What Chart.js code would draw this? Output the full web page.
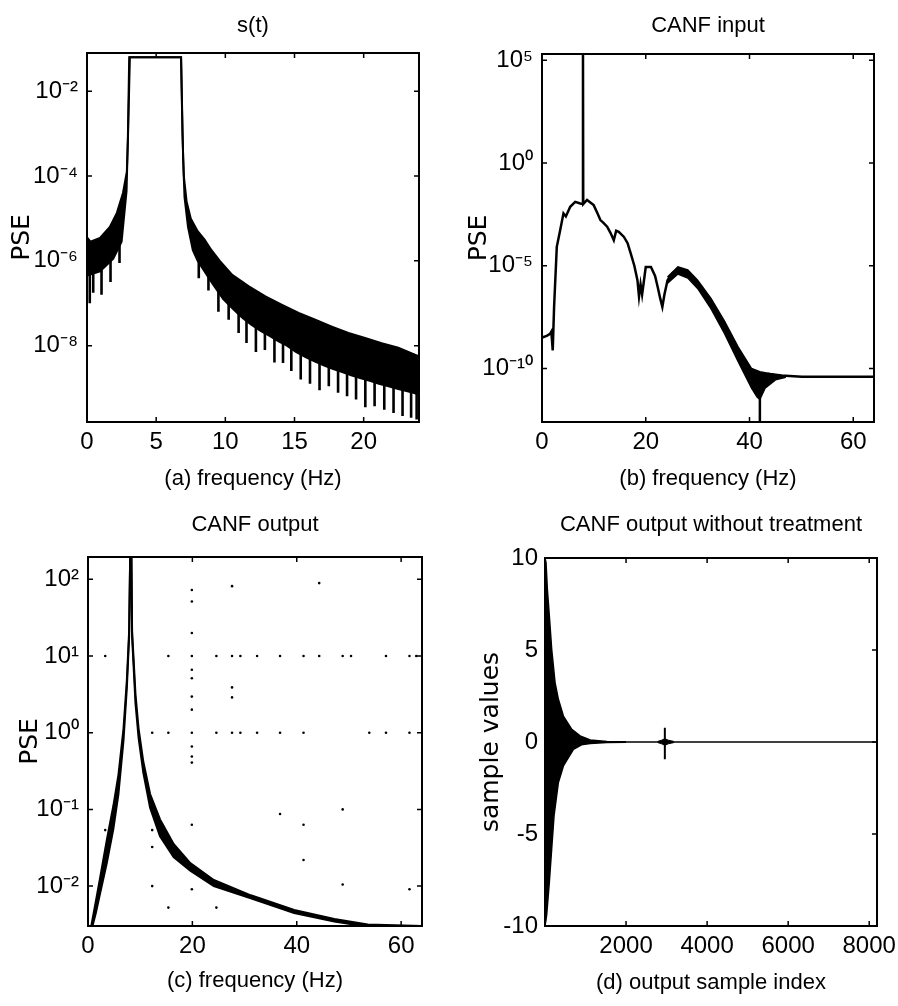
<!DOCTYPE html>
<html lang="en">
<head>
    <meta charset="UTF-8">
    <title>CANF spectra</title>
    <script src="https://cdn.jsdelivr.net/npm/chart.js"></script>
    <style>
        body { margin: 0; background: #fff; width: 898px; height: 1006px; overflow: hidden; position: relative; }
        .panel { position: absolute; }
    </style>
</head>
<body>
    <div class="panel" style="left:0;top:0"><canvas id="chartA" width="449" height="500"></canvas></div>
    <div class="panel" style="left:449px;top:0"><canvas id="chartB" width="470" height="500"></canvas></div>
    <div class="panel" style="left:0;top:500px"><canvas id="chartC" width="449" height="506"></canvas></div>
    <div class="panel" style="left:449px;top:500px"><canvas id="chartD" width="470" height="506"></canvas></div>

    <script>
        // ---- (a) s(t): log10(PSE) ----
        const aUpperHz  = [0, 0.25, 0.94, 1.65, 2.16, 2.6, 2.88, 2.97, 3.1, 6.8, 6.9, 7.0, 7.2, 7.5, 8.0, 8.5, 9.0, 9.6, 10.5, 11.7, 12.9, 14.1, 15.3, 16.5, 17.7, 18.9, 20.1, 21.3, 22.5, 23.7, 24.0];
        const aUpperLog = [-5.45, -5.55, -5.46, -5.2, -4.87, -4.4, -3.9, -3.0, -1.2, -1.2, -3.0, -4.0, -4.6, -5.0, -5.3, -5.5, -5.75, -6.0, -6.33, -6.6, -6.84, -7.04, -7.23, -7.39, -7.55, -7.7, -7.82, -7.94, -8.05, -8.21, -8.25];
        const aLowerHz  = [0, 0.94, 1.9, 2.5, 2.86, 2.95, 3.05, 6.8, 6.95, 7.05, 7.3, 7.65, 8.0, 8.5, 9.1, 9.85, 10.6, 11.25, 11.85, 12.55, 13.2, 13.85, 14.45, 15.1, 15.8, 16.45, 17.15, 17.8, 18.5, 19.1, 19.8, 20.45, 21.1, 21.8, 22.5, 23.1, 23.65, 24.0];
        const aLowerLog = [-6.35, -6.25, -5.95, -5.55, -4.35, -3.2, -1.2, -1.2, -3.6, -4.5, -5.2, -5.75, -6.0, -6.25, -6.55, -6.9, -7.15, -7.35, -7.5, -7.65, -7.77, -7.9, -8.0, -8.15, -8.27, -8.37, -8.47, -8.55, -8.63, -8.7, -8.77, -8.83, -8.9, -8.96, -9.02, -9.07, -9.12, -9.15];
        const aNotchHz   = [0.2, 0.45, 1.05, 1.7, 2.35, 8.08, 8.78, 9.5, 10.24, 10.96, 11.53, 12.21, 12.86, 13.55, 14.17, 14.77, 15.45, 16.12, 16.81, 17.48, 18.15, 18.8, 19.45, 20.12, 20.79, 21.49, 22.16, 22.81, 23.43, 23.83];
        const aNotchBase = [-6.0, -6.0, -5.9, -5.7, -5.3, -5.8, -6.1, -6.4, -6.7, -6.9, -7.1, -7.25, -7.4, -7.5, -7.65, -7.75, -7.9, -8.0, -8.1, -8.2, -8.3, -8.35, -8.45, -8.5, -8.55, -8.62, -8.7, -8.75, -8.8, -8.85];
        const aNotchTip  = [-7.0, -6.75, -6.8, -6.5, -6.05, -6.41, -6.7, -7.2, -7.39, -7.7, -7.94, -8.15, -8.1, -8.4, -8.41, -8.6, -8.8, -8.9, -9.05, -8.96, -9.11, -9.19, -9.27, -9.45, -9.43, -9.51, -9.59, -9.66, -9.7, -9.74];
        const aXTicks = [0, 5, 10, 15, 20];
        const aYExp = [-2, -4, -6, -8];

        // ---- (b) CANF input ----
        const bHz  = [0, 0.26, 1.0, 1.55, 1.8, 2.07, 2.33, 2.85, 3.5, 4.14, 4.6, 5.44, 6.4, 7.38, 7.85, 7.9, 7.95, 8.68, 9.96, 10.6, 11.26, 11.8, 12.56, 13.2, 13.84, 14.3, 14.8, 15.8, 16.5, 17.1, 17.8, 18.4, 18.7, 19.0, 19.3, 20.0, 21.0, 21.8, 22.3, 22.8, 23.2, 23.6, 24.2, 25.2, 26.2, 28.1, 30.0, 32.6, 35.2, 37.8, 40.4, 42.0, 43.6, 46.2, 50.1, 55.0, 64.0];
        const bLog = [-8.45, -8.47, -8.4, -8.31, -8.2, -9.12, -7.01, -4.08, -3.27, -2.45, -2.6, -2.13, -1.89, -1.97, -2.0, 5.3, -2.0, -1.8, -2.05, -2.4, -2.78, -2.9, -3.1, -3.4, -3.76, -3.3, -3.35, -3.6, -3.9, -4.4, -5.0, -5.7, -6.5, -5.9, -6.4, -5.06, -5.06, -5.5, -6.03, -6.6, -7.0, -6.4, -5.7, -5.35, -5.2, -5.38, -5.87, -6.84, -7.98, -9.28, -10.42, -10.9, -10.26, -10.34, -10.4, -10.4, -10.4];
        const bBandHz  = [24.2, 26.2, 28.1, 30.0, 32.6, 35.2, 37.8, 40.4, 41.5, 42.0, 43.0, 45.0, 47.0];
        const bBandUp  = [-5.55, -5.05, -5.2, -5.7, -6.6, -7.7, -8.95, -10.0, -10.1, -10.15, -10.2, -10.3, -10.38];
        const bBandLow = [-5.85, -5.4, -5.6, -6.1, -7.1, -8.3, -9.65, -10.95, -11.4, -11.5, -10.95, -10.55, -10.42];
        const bDipHz = [42.0], bDipFrom = [-11.0], bDipTo = [-12.6];
        const bXTicks = [0, 20, 40, 60];
        const bYExp = [5, 0, -5, -10];

        // ---- (c) CANF output ----
        const cBandHz  = [0, 1.5, 2.3, 3.6, 4.87, 5.83, 6.8, 7.44, 7.88, 8.1, 8.3, 8.45, 9.1, 9.7, 10.6, 11.9, 13.8, 16.4, 19.6, 24.1, 31.2, 39.5, 47.2, 53.6, 64.0];
        const cBandUp  = [-2.75, -2.2, -1.9, -1.4, -0.95, -0.55, 0.05, 0.68, 1.32, 2.4, 2.4, 1.32, 0.5, 0.05, -0.38, -0.8, -1.13, -1.45, -1.7, -1.92, -2.12, -2.31, -2.43, -2.5, -2.52];
        const cBandLow = [-2.75, -2.35, -2.1, -1.7, -1.25, -0.8, -0.1, 0.58, 1.25, 2.4, 2.4, 1.25, 0.38, -0.07, -0.52, -0.98, -1.35, -1.62, -1.8, -2.0, -2.16, -2.35, -2.46, -2.53, -2.54];
        const cDotHz  = [3.3, 15.4, 19.9, 24.6, 27.6, 29.2, 32.4, 36.8, 41.3, 44.3, 48.8, 50.4, 57.1, 61.6, 62.9,
                         12.3, 15.4, 19.9, 24.6, 27.6, 29.2, 32.4, 36.8, 41.3, 53.9, 57.1, 61.6,
                         19.9, 19.9, 19.9, 19.9, 19.9, 19.9, 19.9, 19.9, 19.9, 19.9,
                         27.6, 44.3, 27.6, 27.6, 36.8, 41.3, 48.8, 12.3, 12.3, 19.9, 41.3, 12.3, 19.9, 48.8, 61.6, 15.4, 24.6, 3.3];
        const cDotLog = [1, 1, 1, 1, 1, 1, 1, 1, 1, 1, 1, 1, 1, 1, 1,
                         0, 0, 0, 0, 0, 0, 0, 0, 0, 0, 0, 0,
                         1.86, 1.71, 1.30, 0.82, 0.71, 0.47, 0.30, -0.18, -0.31, -0.39,
                         1.91, 1.95, 0.59, 0.46, -1.06, -1.2, -1.0, -1.27, -1.49, -1.2, -1.66, -2.0, -2.04, -1.98, -2.04, -2.28, -2.28, -1.27];
        const cXTicks = [0, 20, 40, 60];
        const cYExp = [2, 1, 0, -1, -2];

        // ---- (d) CANF output without treatment (time samples) ----
        const dUpIdx  = [0, 25, 58, 107, 165, 248, 330, 454, 661, 867, 1115, 1528, 2000];
        const dUp     = [10, 9.75, 8.3, 6.85, 5.04, 3.23, 2.32, 1.41, 0.69, 0.33, 0.11, 0.03, 0.02];
        const dLowIdx = [0, 17, 41, 107, 165, 223, 330, 454, 702, 900, 1115, 1528, 2000];
        const dLow    = [-10, -10, -9.4, -7.6, -5.8, -4.0, -2.2, -1.3, -0.4, -0.15, -0.08, -0.03, -0.02];
        const dZeroIdx = [0, 8192], dZero = [0, 0];
        const dBlobIdx = [2780, 2880, 2957, 3040, 3180];
        const dBlobUp  = [0.03, 0.1, 0.18, 0.1, 0.03];
        const dBlobLow = [-0.03, -0.1, -0.18, -0.1, -0.03];
        const dSpikeIdx = [2957, 2957], dSpike = [0.78, -0.94];
        const dXTicks = [2000, 4000, 6000, 8000];
        const dYTicks = [-10, -5, 0, 5, 10];

        // fonts: the scan uses a narrow Helvetica
        function hasFont(name) {
            const c = document.createElement('canvas').getContext('2d');
            c.font = '40px monospace';
            const w0 = c.measureText('frequency 0123').width;
            c.font = "40px '" + name + "', monospace";
            return c.measureText('frequency 0123').width !== w0;
        }
        const NARROW = hasFont('Liberation Sans Narrow');
        const TXT = NARROW ? "'Liberation Sans Narrow', 'Liberation Sans', sans-serif" : "'Liberation Sans', sans-serif";
        const TXT_SIZE = NARROW ? 26 : 22;
        const TICK_SIZE = NARROW ? 27 : 24;
        const VFONT = { family: "'DejaVu Sans', sans-serif", size: 25 };

        const SUP = { '-': '\u207B', '0': '\u2070', '1': '\u00B9', '2': '\u00B2', '3': '\u00B3', '4': '\u2074', '5': '\u2075', '6': '\u2076', '7': '\u2077', '8': '\u2078', '9': '\u2079' };
        const pow10Label = e => '10' + String(e).split('').map(c => SUP[c]).join('');

        const logPts = (xs, es) => xs.map((x, i) => ({ x: x, y: Math.pow(10, es[i]) }));
        const linPts = (xs, ys) => xs.map((x, i) => ({ x: x, y: ys[i] }));
        const logSpikes = (xs, from, to) => xs.flatMap((x, i) => [
            { x: x, y: Math.pow(10, from[i]) }, { x: x, y: Math.pow(10, to[i]) }, { x: x, y: null }
        ]);

        function line(data, width, extra) {
            return Object.assign({
                data: data, borderColor: '#000', backgroundColor: '#000', borderWidth: width,
                pointRadius: 0, fill: false, tension: 0, spanGaps: false
            }, extra || {});
        }

        // box round the axes with inward ticks, MATLAB style
        const boxTicks = {
            id: 'boxTicks',
            afterDraw(chart) {
                const { ctx, chartArea: a, scales } = chart;
                const len = 5;
                ctx.save();
                ctx.strokeStyle = '#000';
                ctx.lineWidth = 2;
                ctx.strokeRect(a.left, a.top, a.right - a.left, a.bottom - a.top);
                ctx.lineWidth = 1.5;
                ctx.beginPath();
                scales.x.ticks.forEach(t => {
                    const px = scales.x.getPixelForValue(t.value);
                    ctx.moveTo(px, a.bottom); ctx.lineTo(px, a.bottom - len);
                    ctx.moveTo(px, a.top); ctx.lineTo(px, a.top + len);
                });
                scales.y.ticks.forEach(t => {
                    const py = scales.y.getPixelForValue(t.value);
                    ctx.moveTo(a.left, py); ctx.lineTo(a.left + len, py);
                    ctx.moveTo(a.right, py); ctx.lineTo(a.right - len, py);
                });
                ctx.stroke();
                ctx.restore();
            }
        };

        function makeChart(id, o) {
            const lh = TXT_SIZE * 1.2;
            const tTop = o.titleCenter - lh / 2;
            return new Chart(document.getElementById(id), {
                type: 'line',
                data: { datasets: o.datasets },
                options: {
                    responsive: false,
                    animation: false,
                    devicePixelRatio: 1,
                    layout: { padding: { left: 0, top: 0, bottom: 0, right: o.padRight } },
                    plugins: {
                        legend: { display: false },
                        tooltip: { enabled: false },
                        title: {
                            display: true, text: o.title, fullSize: false, color: '#000',
                            font: { family: TXT, size: TXT_SIZE, weight: 'normal', lineHeight: 1.2 },
                            padding: { top: tTop, bottom: o.plotTop - tTop - lh }
                        }
                    },
                    scales: {
                        x: {
                            type: 'linear', min: o.xMin, max: o.xMax,
                            afterBuildTicks: s => { s.ticks = o.xTicks.map(v => ({ value: v })); },
                            afterFit: s => { s.height = o.xHeight; },
                            grid: { display: false, drawTicks: false },
                            border: { display: false },
                            ticks: {
                                color: '#000', autoSkip: false, maxRotation: 0, padding: 6,
                                font: { family: TXT, size: TICK_SIZE },
                                callback: v => String(v)
                            },
                            title: {
                                display: true, text: o.xLabel, color: '#000',
                                font: { family: TXT, size: TXT_SIZE, lineHeight: 1.2 },
                                padding: { top: 0, bottom: o.xTitlePad }
                            }
                        },
                        y: {
                            type: o.yLog ? 'logarithmic' : 'linear', min: o.yMin, max: o.yMax,
                            afterBuildTicks: s => { s.ticks = o.yTicks.map(v => ({ value: v })); },
                            afterFit: s => { s.width = o.yWidth; },
                            grid: { display: false, drawTicks: false },
                            border: { display: false },
                            ticks: {
                                color: '#000', autoSkip: false, padding: o.yTickPad,
                                font: { family: TXT, size: TICK_SIZE },
                                callback: (v, i) => o.yLabels[i]
                            },
                            title: {
                                display: true, text: o.yLabel, color: '#000',
                                font: VFONT, padding: { top: o.yTitlePad, bottom: 0 }
                            }
                        }
                    }
                },
                plugins: [boxTicks]
            });
        }

        // (a)
        makeChart('chartA', {
            title: 's(t)', titleCenter: 26, plotTop: 53, padRight: 30,
            xMin: 0, xMax: 24, xTicks: aXTicks, xHeight: 78, xLabel: '(a) frequency (Hz)', xTitlePad: 8,
            yLog: true, yMin: Math.pow(10, -9.8), yMax: Math.pow(10, -1.1),
            yTicks: aYExp.map(e => Math.pow(10, e)), yLabels: aYExp.map(pow10Label),
            yWidth: 87, yTickPad: 9, yLabel: 'PSE', yTitlePad: 7,
            datasets: [
                line(logPts(aUpperHz, aUpperLog), 2, { fill: { target: 1 } }),
                line(logPts(aLowerHz, aLowerLog), 2),
                line(logSpikes(aNotchHz, aNotchBase, aNotchTip), 2.6)
            ]
        });

        // (b)
        makeChart('chartB', {
            title: 'CANF input', titleCenter: 26, plotTop: 54, padRight: 470 - 425,
            xMin: 0, xMax: 64, xTicks: bXTicks, xHeight: 78, xLabel: '(b) frequency (Hz)', xTitlePad: 8,
            yLog: true, yMin: Math.pow(10, -12.6), yMax: Math.pow(10, 5.3),
            yTicks: bYExp.map(e => Math.pow(10, e)), yLabels: bYExp.map(pow10Label),
            yWidth: 93, yTickPad: 9, yLabel: 'PSE', yTitlePad: 15,
            datasets: [
                line(logPts(bBandHz, bBandUp), 1.5, { fill: { target: 1 } }),
                line(logPts(bBandHz, bBandLow), 1.5),
                line(logPts(bHz, bLog), 2.5),
                line(logSpikes(bDipHz, bDipFrom, bDipTo), 2.5)
            ]
        });

        // (c)
        makeChart('chartC', {
            title: 'CANF output', titleCenter: 25, plotTop: 57, padRight: 27,
            xMin: 0, xMax: 64, xTicks: cXTicks, xHeight: 80, xLabel: '(c) frequency (Hz)', xTitlePad: 12,
            yLog: true, yMin: Math.pow(10, -2.52), yMax: Math.pow(10, 2.29),
            yTicks: cYExp.map(e => Math.pow(10, e)), yLabels: cYExp.map(pow10Label),
            yWidth: 88, yTickPad: 9, yLabel: 'PSE', yTitlePad: 15,
            datasets: [
                line(logPts(cBandHz, cBandUp), 2, { fill: { target: 1 } }),
                line(logPts(cBandHz, cBandLow), 2),
                line(logPts(cDotHz, cDotLog), 0, { showLine: false, pointRadius: 1.3, pointBorderWidth: 0, pointBackgroundColor: '#000' })
            ]
        });

        // (d)
        makeChart('chartD', {
            title: 'CANF output without treatment', titleCenter: 25, plotTop: 58, padRight: 470 - 428,
            xMin: 0, xMax: 8192, xTicks: dXTicks, xHeight: 80, xLabel: '(d) output sample index', xTitlePad: 10,
            yLog: false, yMin: -10, yMax: 10,
            yTicks: dYTicks, yLabels: dYTicks.map(v => String(v)),
            yWidth: 96, yTickPad: 7, yLabel: 'sample values', yTitlePad: 27,
            datasets: [
                line(linPts(dUpIdx, dUp), 1.5, { fill: { target: 1 } }),
                line(linPts(dLowIdx, dLow), 1.5),
                line(linPts(dZeroIdx, dZero), 1.5),
                line(linPts(dBlobIdx, dBlobUp), 1, { fill: { target: 4 } }),
                line(linPts(dBlobIdx, dBlobLow), 1),
                line(linPts(dSpikeIdx, dSpike), 2)
            ]
        });
    </script>
</body>
</html>
